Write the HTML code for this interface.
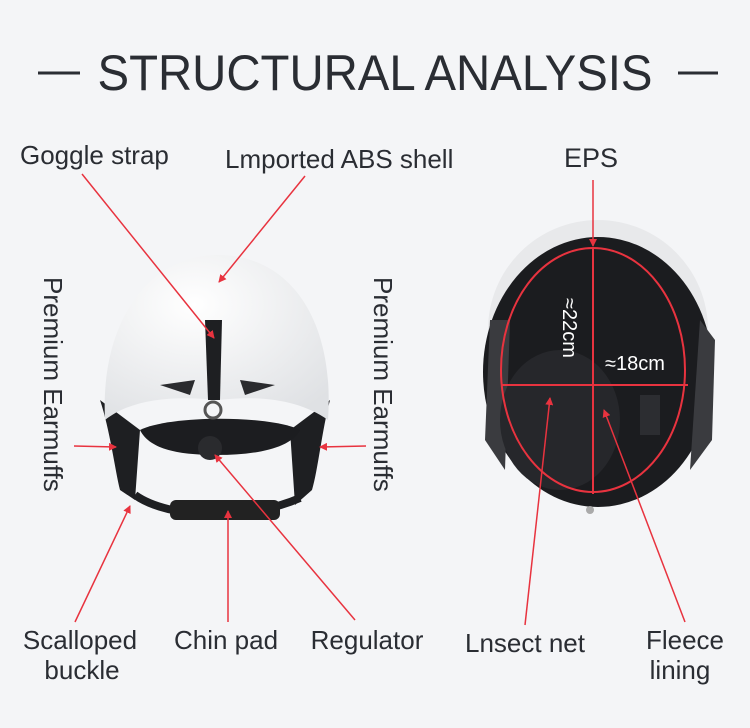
<!DOCTYPE html>
<html><head><meta charset="utf-8"><style>
html,body{margin:0;padding:0;background:#f4f5f7;}
svg{display:block}
text{font-family:"Liberation Sans","DejaVu Sans",sans-serif;fill:#2a2d33}
</style></head><body>
<svg width="750" height="728" viewBox="0 0 750 728" xmlns="http://www.w3.org/2000/svg">
<defs>
<marker id="a" markerWidth="8" markerHeight="8" refX="7" refY="4" orient="auto" markerUnits="userSpaceOnUse"><path d="M0,0 L8,4 L0,8 Z" fill="#e8333f"/></marker>
<radialGradient id="w" cx="0.4" cy="0.3" r="0.8"><stop offset="0" stop-color="#ffffff"/><stop offset="1" stop-color="#dfe1e4"/></radialGradient>
</defs>
<rect width="750" height="728" fill="#f4f5f7"/>
<!-- title -->
<line x1="38" y1="73" x2="80" y2="73" stroke="#2a2d33" stroke-width="3"/>
<line x1="678" y1="73" x2="718" y2="73" stroke="#2a2d33" stroke-width="3"/>
<text x="375" y="90" font-size="50" text-anchor="middle" textLength="555" lengthAdjust="spacingAndGlyphs">STRUCTURAL ANALYSIS</text>

<!-- left helmet -->
<path d="M100,400 C110,430 115,470 120,490 L135,500 L140,430 Z" fill="#1e1f22"/>
<path d="M330,400 C322,430 318,470 312,490 L295,505 L290,430 Z" fill="#1e1f22"/>
<path d="M105,420 C100,320 150,255 218,255 C290,255 335,320 328,420 C300,400 260,395 218,400 C170,395 130,400 105,420 Z" fill="url(#w)"/>
<path d="M140,430 C170,415 270,415 300,430 C290,450 250,455 218,455 C180,455 150,450 140,430 Z" fill="#1c1d20"/>
<path d="M205,320 L222,320 L220,400 L208,400 Z" fill="#1e1f22"/>
<path d="M160,385 L195,380 L190,395 Z M240,380 L275,385 L245,395 Z" fill="#2a2b2e"/>
<circle cx="213" cy="410" r="8" fill="none" stroke="#555" stroke-width="3"/>
<path d="M135,495 C170,520 250,520 300,498" stroke="#1e1f22" stroke-width="8" fill="none"/>
<rect x="170" y="500" width="110" height="20" rx="6" fill="#222"/>
<circle cx="210" cy="448" r="12" fill="#2a2b2e"/>

<!-- right helmet -->
<ellipse cx="598" cy="330" rx="110" ry="110" fill="#e8e9eb"/>
<ellipse cx="598" cy="372" rx="115" ry="135" fill="#1b1c1f"/>
<path d="M490,320 L510,320 L505,470 L485,440 Z" fill="#3a3b3f"/>
<path d="M700,320 L715,340 L712,440 L690,470 Z" fill="#3a3b3f"/>
<ellipse cx="560" cy="420" rx="60" ry="70" fill="#26272b"/>
<ellipse cx="593" cy="370" rx="92" ry="122" fill="none" stroke="#e8333f" stroke-width="2"/>
<line x1="593" y1="248" x2="593" y2="494" stroke="#e8333f" stroke-width="2"/>
<line x1="502" y1="385" x2="688" y2="385" stroke="#e8333f" stroke-width="2"/>
<text x="0" y="0" font-size="20" fill="#fff" style="fill:#fff" transform="translate(563,298) rotate(90)">≈22cm</text>
<text x="605" y="370" font-size="20" style="fill:#fff">≈18cm</text>
<rect x="640" y="395" width="20" height="40" fill="#2c2d31"/>
<circle cx="590" cy="510" r="4" fill="#aaa"/>

<!-- labels -->
<text x="20" y="164" font-size="26">Goggle strap</text>
<text x="225" y="168" font-size="26">Lmported ABS shell</text>
<text x="564" y="167" font-size="27">EPS</text>
<text font-size="26" transform="translate(44,277) rotate(90)">Premium Earmuffs</text>
<text font-size="26" transform="translate(374,277) rotate(90)">Premium Earmuffs</text>
<text x="80" y="649" font-size="26" text-anchor="middle">Scalloped</text>
<text x="82" y="679" font-size="26" text-anchor="middle">buckle</text>
<text x="226" y="649" font-size="26" text-anchor="middle">Chin pad</text>
<text x="367" y="649" font-size="26" text-anchor="middle">Regulator</text>
<text x="525" y="652" font-size="26" text-anchor="middle">Lnsect net</text>
<text x="685" y="649" font-size="26" text-anchor="middle">Fleece</text>
<text x="680" y="679" font-size="26" text-anchor="middle">lining</text>

<!-- connectors -->
<g stroke="#e8333f" stroke-width="1.5" fill="none" marker-end="url(#a)">
<line x1="82" y1="174" x2="214" y2="338"/>
<line x1="305" y1="176" x2="219" y2="282"/>
<line x1="593" y1="180" x2="593" y2="246"/>
<line x1="74" y1="446" x2="116" y2="447"/>
<line x1="366" y1="446" x2="320" y2="447"/>
<line x1="75" y1="622" x2="130" y2="506"/>
<line x1="228" y1="622" x2="228" y2="511"/>
<line x1="355" y1="620" x2="215" y2="455"/>
<line x1="525" y1="625" x2="550" y2="398"/>
<line x1="685" y1="622" x2="604" y2="410"/>
</g>
</svg>
</body></html>
